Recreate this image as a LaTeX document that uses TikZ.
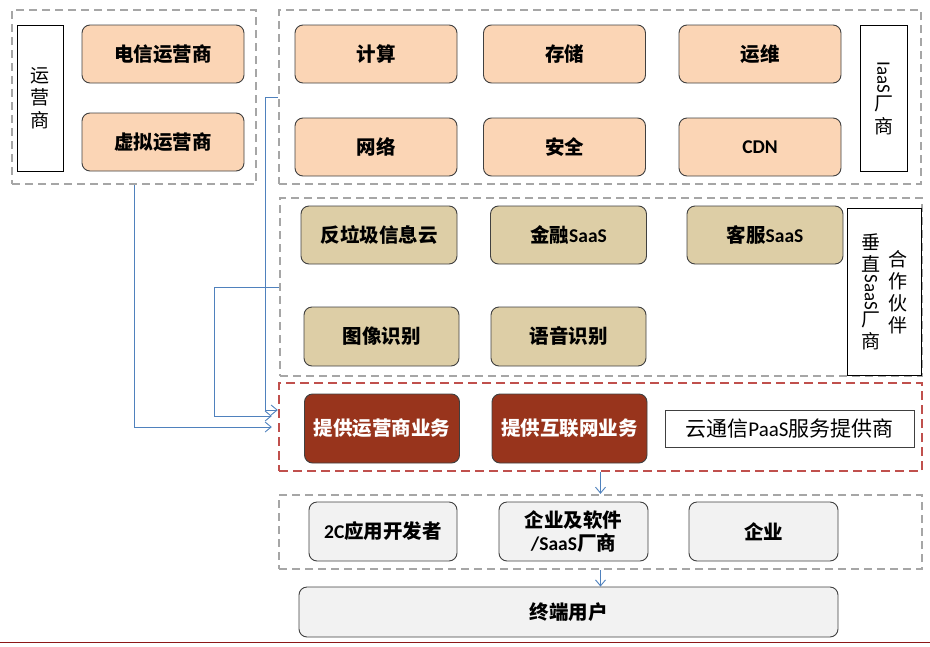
\documentclass[tikz,border=0pt]{standalone}
\usepackage{fontspec}
\setmainfont{Noto Sans CJK SC}
\newfontfamily\lat{Carlito}
\usepackage{tikz}
\usetikzlibrary{arrows.meta,positioning}
\definecolor{peach}{RGB}{251,213,181}
\definecolor{sand}{RGB}{221,206,166}
\definecolor{brick}{RGB}{152,52,28}
\definecolor{gray242}{RGB}{242,242,242}
\definecolor{gray166}{RGB}{166,166,166}
\definecolor{gray64}{RGB}{64,64,64}
\definecolor{red192}{RGB}{192,80,77}
\definecolor{blue79}{RGB}{79,129,189}
\definecolor{rule}{RGB}{140,24,24}

\begin{document}
\begin{tikzpicture}
          [x=1pt,y=-1pt,
            every node/.style={inner sep=0pt},
            box/.style={rectangle,rounded corners=8pt,draw=gray64,line width=0.9pt,
              minimum width=162pt,minimum height=58pt,font=\bfseries\fontsize{19.5}{23}\selectfont},
            iaasbox/.style={box,fill=peach},
            saasbox/.style={box,fill=sand,minimum width=156pt},
            paasbox/.style={box,fill=brick,text=white,minimum width=155pt,minimum height=69pt},
            custbox/.style={box,fill=gray242,minimum width=149pt,minimum height=59pt},
            tag/.style={rectangle,draw=black,line width=0.8pt,align=center,
              font=\fontsize{19}{22.5}\selectfont},
            word/.style={draw=none,fill=none,align=center,font=\fontsize{19}{22}\selectfont},
            grp/.style={rectangle,draw=gray166,line width=2.4pt,dash pattern=on 8pt off 5pt},
            redgrp/.style={grp,draw=red192,dash pattern=on 9pt off 5pt},
            link/.style={draw=blue79,line width=0.9pt,-{Straight Barb[length=6pt,width=10pt]}},
          ]
          \useasboundingbox (0,0) rectangle (930,646);

          % dashed groups
          \node[grp,minimum width=244pt,minimum height=174pt] (ops) at (134,97) {};
          \node[grp,minimum width=642pt,minimum height=174pt] (iaas) at (600,97) {};
          \node[grp,minimum width=642pt,minimum height=178pt] (saas) at (601,287) {};
          \node[redgrp,minimum width=643pt,minimum height=88pt] (paas) at (600.5,427) {};
          \node[grp,minimum width=643pt,minimum height=74pt] (cust) at (600.5,532) {};

          % operators
          \node[tag,minimum width=46pt,minimum height=146pt] (opsTag) at (40,98) {运\\营\\商};
          \node[iaasbox] (tel) at (163,54) {电信运营商};
          \node[iaasbox] (mvno) at (163,142) {虚拟运营商};

          % IaaS
          \node[iaasbox] (compute) at (376,54) {计算};
          \node[iaasbox] (storage) at (564.5,54) {存储};
          \node[iaasbox] (ops2) at (760,54) {运维};
          \node[iaasbox] (network) at (376,147) {网络};
          \node[iaasbox] (security) at (564.5,147) {安全};
          \node[iaasbox] (cdn) at (760,147) {\lat\bfseries CDN};
          \node[tag,minimum width=47pt,minimum height=146pt] (iaasTag) at (883.5,98)
            {\rotatebox[origin=c]{-90}{\lat IaaS}\\[2pt]厂\\商};

          % SaaS
          \node[saasbox] (spam) at (379,235) {反垃圾信息云};
          \node[saasbox] (fin) at (568.5,235) {金融{\lat\bfseries SaaS}};
          \node[saasbox] (service) at (765,235) {客服{\lat\bfseries SaaS}};
          \node[saasbox,minimum width=155pt,minimum height=59pt] (image) at (381.5,336.5) {图像识别};
          \node[saasbox,minimum width=155pt,minimum height=59pt] (voice) at (568.5,336.5) {语音识别};
          \node[tag,minimum width=74pt,minimum height=167pt] (saasTag) at (884,291.5) {};
          \node[word] (saasTag1) at (871,292) {垂\\直\\[1pt]\rotatebox[origin=c]{-90}{\lat SaaS}\\[1pt]厂\\商};
          \node[word] (saasTag2) at (898,292) {合\\作\\伙\\伴};

          % PaaS
          \node[paasbox] (telsvc) at (382,428.5) {提供运营商业务};
          \node[paasbox] (netsvc) at (569.5,428.5) {提供互联网业务};
          \node[tag,draw=gray64,minimum width=249pt,minimum height=37pt,
            font=\fontsize{21}{24}\selectfont] (paasTag) at (789.5,428.5) {云通信{\lat PaaS}服务提供商};

          % customers
          \node[custbox,minimum width=148pt] (dev) at (383,531.5) {{\lat\bfseries 2C}应用开发者};
          \node[custbox,align=center] (isv) at (573.5,531.5) {企业及软件\\{\lat\bfseries /SaaS}厂商};
          \node[custbox] (ent) at (763.5,531.5) {企业};
          \node[custbox,minimum width=539pt,minimum height=50pt] (user) at (568.5,612) {终端用户};

          % connectors
          \draw[link] (ops.south) |- ([xshift=-6pt]paas.west);
          \draw[link] (saas.west) -- ++(-64,0) |- ([xshift=-6pt,yshift=11pt]paas.west);
          \draw[link] (iaas.west) -- ++(-12,0) |- ([yshift=17pt]paas.west);
          \draw[link] (paas.south) -- (cust.north);
          \draw[link] (cust.south) -- (cust.south |- user.north);

          \draw[rule,line width=1pt] (0,642) -- (930,642);
        \end{tikzpicture}
\end{document}
